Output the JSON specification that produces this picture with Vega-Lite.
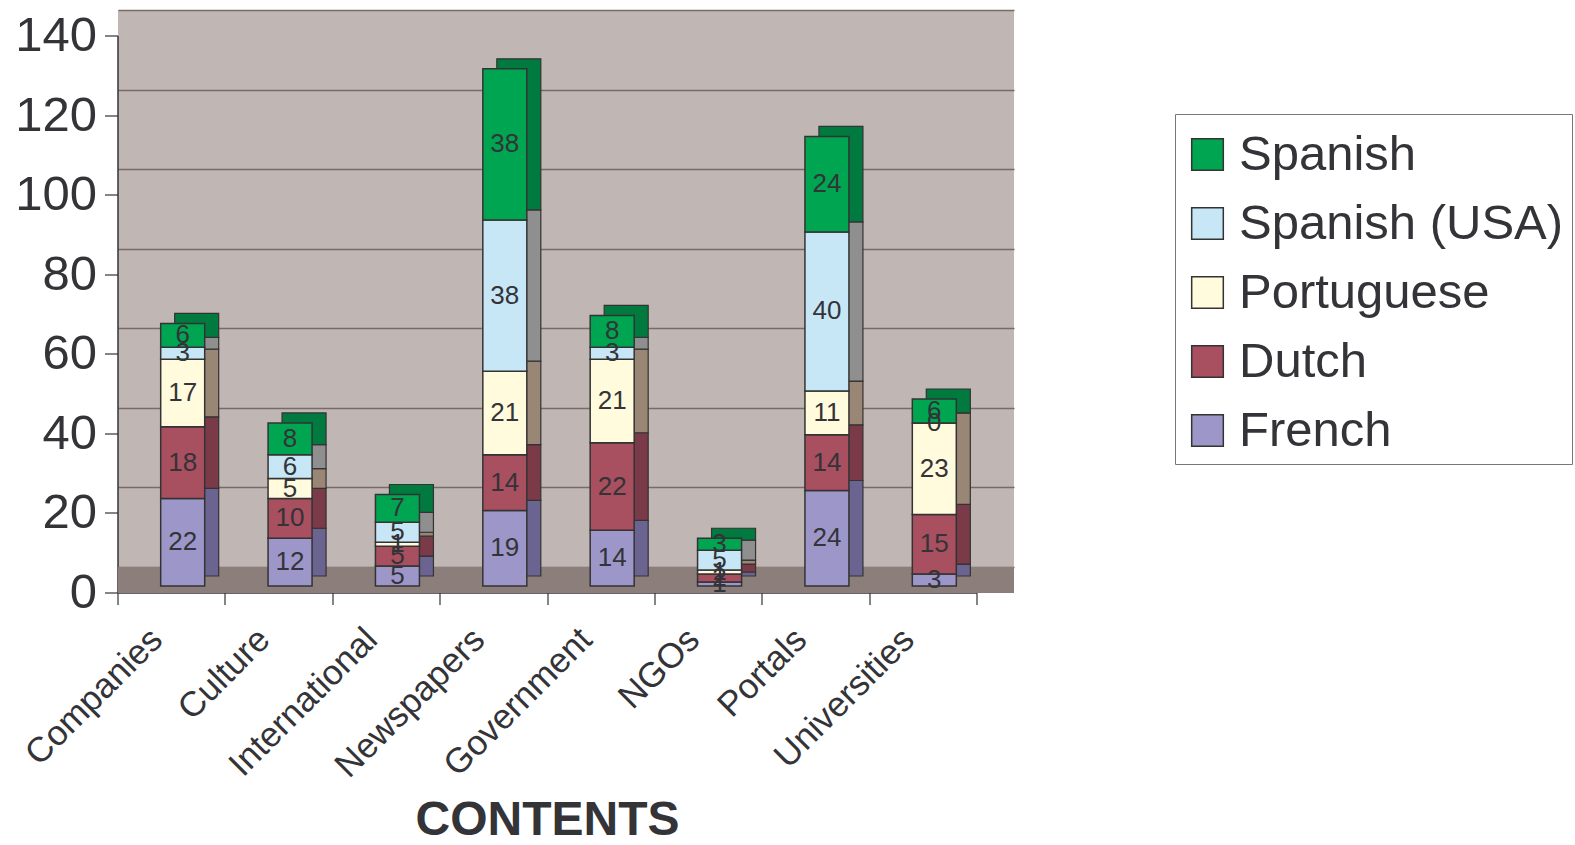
{
  "$schema": "https://vega.github.io/schema/vega-lite/v6.json",
  "width": 896,
  "height": 583,
  "autosize": "none",
  "padding": {"left": 118, "top": 10, "right": 561, "bottom": 252},
  "background": "white",
  "config": {
    "font": "Liberation Sans",
    "view": {"stroke": null, "fill": "#c0b6b4"},
    "axis": {"labelFont": "Liberation Sans", "titleFont": "Liberation Sans", "labelColor": "#333338", "titleColor": "#333338"},
    "legend": {"labelFont": "Liberation Sans", "titleFont": "Liberation Sans"}
  },
  "data": {
    "values": [
      {"site": "Companies", "lang": "French", "value": 22, "ord": 1},
      {"site": "Companies", "lang": "Dutch", "value": 18, "ord": 2},
      {"site": "Companies", "lang": "Portuguese", "value": 17, "ord": 3},
      {"site": "Companies", "lang": "Spanish (USA)", "value": 3, "ord": 4},
      {"site": "Companies", "lang": "Spanish", "value": 6, "ord": 5},
      {"site": "Culture", "lang": "French", "value": 12, "ord": 1},
      {"site": "Culture", "lang": "Dutch", "value": 10, "ord": 2},
      {"site": "Culture", "lang": "Portuguese", "value": 5, "ord": 3},
      {"site": "Culture", "lang": "Spanish (USA)", "value": 6, "ord": 4},
      {"site": "Culture", "lang": "Spanish", "value": 8, "ord": 5},
      {"site": "International", "lang": "French", "value": 5, "ord": 1},
      {"site": "International", "lang": "Dutch", "value": 5, "ord": 2},
      {"site": "International", "lang": "Portuguese", "value": 1, "ord": 3},
      {"site": "International", "lang": "Spanish (USA)", "value": 5, "ord": 4},
      {"site": "International", "lang": "Spanish", "value": 7, "ord": 5},
      {"site": "Newspapers", "lang": "French", "value": 19, "ord": 1},
      {"site": "Newspapers", "lang": "Dutch", "value": 14, "ord": 2},
      {"site": "Newspapers", "lang": "Portuguese", "value": 21, "ord": 3},
      {"site": "Newspapers", "lang": "Spanish (USA)", "value": 38, "ord": 4},
      {"site": "Newspapers", "lang": "Spanish", "value": 38, "ord": 5},
      {"site": "Government", "lang": "French", "value": 14, "ord": 1},
      {"site": "Government", "lang": "Dutch", "value": 22, "ord": 2},
      {"site": "Government", "lang": "Portuguese", "value": 21, "ord": 3},
      {"site": "Government", "lang": "Spanish (USA)", "value": 3, "ord": 4},
      {"site": "Government", "lang": "Spanish", "value": 8, "ord": 5},
      {"site": "NGOs", "lang": "French", "value": 1, "ord": 1},
      {"site": "NGOs", "lang": "Dutch", "value": 2, "ord": 2},
      {"site": "NGOs", "lang": "Portuguese", "value": 1, "ord": 3},
      {"site": "NGOs", "lang": "Spanish (USA)", "value": 5, "ord": 4},
      {"site": "NGOs", "lang": "Spanish", "value": 3, "ord": 5},
      {"site": "Portals", "lang": "French", "value": 24, "ord": 1},
      {"site": "Portals", "lang": "Dutch", "value": 14, "ord": 2},
      {"site": "Portals", "lang": "Portuguese", "value": 11, "ord": 3},
      {"site": "Portals", "lang": "Spanish (USA)", "value": 40, "ord": 4},
      {"site": "Portals", "lang": "Spanish", "value": 24, "ord": 5},
      {"site": "Universities", "lang": "French", "value": 3, "ord": 1},
      {"site": "Universities", "lang": "Dutch", "value": 15, "ord": 2},
      {"site": "Universities", "lang": "Portuguese", "value": 23, "ord": 3},
      {"site": "Universities", "lang": "Spanish (USA)", "value": 0, "ord": 4},
      {"site": "Universities", "lang": "Spanish", "value": 6, "ord": 5}
    ]
  },
  "resolve": {"axis": {"y": "independent"}},
  "layer": [
    {
      "mark": {"type": "rect", "fill": "#8c7e7b"},
      "encoding": {
        "y": {"datum": 0, "type": "quantitative", "scale": {"domain": [0, 140], "range": [557, 0], "nice": false, "zero": false},
          "axis": {"orient": "left", "values": [0, 20, 40, 60, 80, 100, 120, 140], "labels": false, "ticks": false, "domain": false, "grid": true, "gridColor": "#766b69", "gridWidth": 1.5, "title": null}},
        "y2": {"datum": -6.5}
      }
    },
    {
      "mark": {"type": "bar", "width": 44, "xOffset": -12, "x2Offset": -12, "yOffset": 9, "y2Offset": 9, "stroke": "#333333", "strokeWidth": 1.2},
      "encoding": {
        "x": {"field": "site", "type": "nominal", "sort": null, "scale": {"range": [37, 896], "paddingInner": 0, "paddingOuter": 0},
          "axis": {"orient": "bottom", "title": "CONTENTS", "titleFontSize": 48, "titleFontWeight": "bold", "titleY": 242, "titleBaseline": "alphabetic",
            "labelAngle": -45, "labelFontSize": 35, "labelPadding": 29, "labelOffset": -15, "labelBaseline": "middle", "labelAlign": "right", "labelLimit": 1000,
            "tickBand": "extent", "tickSize": 12,
            "tickColor": "#333338", "domainColor": "#333338", "domainWidth": 1.5, "tickWidth": 1.2,
            "offset": 37, "translate": -37, "grid": false}},
        "y": {"field": "value", "type": "quantitative", "stack": "zero", "axis": null},
        "fill": {"field": "lang", "type": "nominal", "legend": null,
          "scale": {"domain": ["French", "Dutch", "Portuguese", "Spanish (USA)", "Spanish"], "range": ["#6c6490", "#7a3a48", "#9a8674", "#8f8f8f", "#007a3f"]}},
        "order": {"field": "ord", "type": "quantitative"}
      }
    },
    {
      "mark": {"type": "bar", "width": 44, "xOffset": -26, "x2Offset": -26, "yOffset": 19, "y2Offset": 19, "stroke": "#333333", "strokeWidth": 1.5},
      "encoding": {
        "x": {"field": "site", "type": "nominal", "sort": null,
          "axis": {"orient": "bottom", "title": "CONTENTS", "titleFontSize": 48, "titleFontWeight": "bold", "titleY": 242, "titleBaseline": "alphabetic",
            "labelAngle": -45, "labelFontSize": 35, "labelPadding": 29, "labelOffset": -15, "labelBaseline": "middle", "labelAlign": "right", "labelLimit": 1000,
            "tickBand": "extent", "tickSize": 12,
            "tickColor": "#333338", "domainColor": "#333338", "domainWidth": 1.5, "tickWidth": 1.2,
            "offset": 37, "translate": -37, "grid": false}},
        "y": {"field": "value", "type": "quantitative", "stack": "zero",
          "axis": {"orient": "left", "values": [0, 20, 40, 60, 80, 100, 120, 140], "title": null, "grid": false, "labelFontSize": 49,
            "tickSize": 13, "labelPadding": 8, "tickColor": "#333338", "domainColor": "#333338", "domainWidth": 1.5, "tickWidth": 1.2,
            "offset": 26, "translate": 26}},
        "color": {"field": "lang", "type": "nominal",
          "scale": {"domain": ["Spanish", "Spanish (USA)", "Portuguese", "Dutch", "French"], "range": ["#00a551", "#c7e7f7", "#fffbdc", "#a84f60", "#9d97c9"]},
          "legend": {"orient": "none", "legendX": 1057, "legendY": 104, "title": " ", "titleFontSize": 8, "titlePadding": 0,
            "labelFontSize": 49, "labelColor": "#333338",
            "symbolType": "square", "symbolSize": 1000, "symbolStrokeColor": "#333333", "symbolStrokeWidth": 1.5,
            "symbolOpacity": 1, "labelOffset": 7, "rowPadding": 19, "padding": 8, "strokeColor": "#777777",
            "fillColor": "white", "labelLimit": 1000}},
        "order": {"field": "ord", "type": "quantitative"}
      }
    },
    {
      "mark": {"type": "text", "dx": -26, "dy": 19, "fontSize": 26, "color": "#333338", "baseline": "middle"},
      "encoding": {
        "x": {"field": "site", "type": "nominal", "sort": null,
          "axis": {"orient": "bottom", "title": "CONTENTS", "titleFontSize": 48, "titleFontWeight": "bold", "titleY": 242, "titleBaseline": "alphabetic",
            "labelAngle": -45, "labelFontSize": 35, "labelPadding": 29, "labelOffset": -15, "labelBaseline": "middle", "labelAlign": "right", "labelLimit": 1000,
            "tickBand": "extent", "tickSize": 12,
            "tickColor": "#333338", "domainColor": "#333338", "domainWidth": 1.5, "tickWidth": 1.2,
            "offset": 37, "translate": -37, "grid": false}},
        "y": {"field": "value", "type": "quantitative", "stack": "zero", "bandPosition": 0.5, "axis": null},
        "detail": {"field": "lang", "type": "nominal"},
        "text": {"field": "value", "type": "quantitative"},
        "order": {"field": "ord", "type": "quantitative"}
      }
    }
  ]
}
